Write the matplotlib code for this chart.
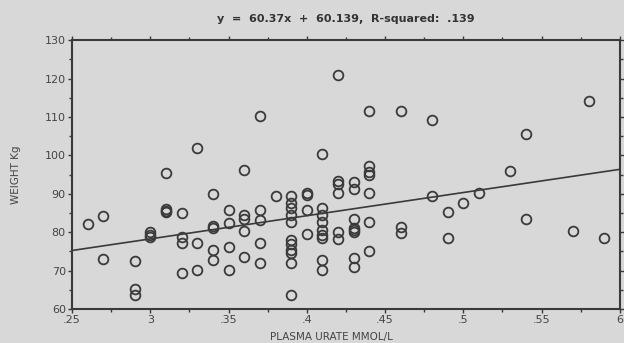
import numpy as np
import matplotlib
matplotlib.use("Agg")
import matplotlib.pyplot as plt
from matplotlib.ticker import MultipleLocator

# plasma urate (mmol/l) and weight (kg)
urate = [0.26,
         0.27, 0.27,
         0.29, 0.29, 0.29,
         0.30, 0.30, 0.30,
         0.31, 0.31, 0.31, 0.31,
         0.32, 0.32, 0.32, 0.32,
         0.33, 0.33, 0.33,
         0.34, 0.34, 0.34, 0.34, 0.34,
         0.35, 0.35, 0.35, 0.35,
         0.36, 0.36, 0.36, 0.36, 0.36,
         0.37, 0.37, 0.37, 0.37, 0.37,
         0.38,
         0.39, 0.39, 0.39, 0.39, 0.39, 0.39, 0.39, 0.39, 0.39, 0.39, 0.39,
         0.40, 0.40, 0.40, 0.40,
         0.41, 0.41, 0.41, 0.41, 0.41, 0.41, 0.41, 0.41, 0.41,
         0.42, 0.42, 0.42, 0.42, 0.42, 0.42,
         0.43, 0.43, 0.43, 0.43, 0.43, 0.43, 0.43, 0.43,
         0.44, 0.44, 0.44, 0.44, 0.44, 0.44, 0.44,
         0.46, 0.46, 0.46,
         0.48, 0.48,
         0.49, 0.49,
         0.50,
         0.51,
         0.53,
         0.54, 0.54,
         0.57,
         0.58,
         0.59]
weight = [82,
          84.3, 73,
          72.5, 65.3, 63.6,
          80.1, 79.2, 78.8,
          95.4, 86, 85.6, 85.2,
          85, 78.8, 77.1, 69.5,
          101.8, 77.1, 70.1,
          89.9, 81.5, 81, 75.3, 72.7,
          85.8, 82.5, 76.2, 70.1,
          96.3, 84.5, 83.5, 80.2, 73.5,
          110.3, 85.8, 83.1, 77.1, 71.9,
          89.4,
          89.4, 87.5, 86.4, 84.4, 82.6, 77.9, 77, 75.3, 74.5, 71.9, 63.6,
          90.2, 89.7, 85.9, 79.6,
          100.3, 86.2, 84.4, 82.6, 80.5, 79.2, 78.4, 72.7, 70.1,
          121, 93.4, 92.6, 90.1, 80, 78.3,
          93, 91.2, 83.4, 81.2, 80.6, 80.1, 73.3, 71,
          111.5, 97.1, 95.6, 95, 90.1, 82.6, 75.2,
          111.5, 81.3, 79.9,
          109.1, 89.4,
          85.3, 78.4,
          87.5,
          90.2,
          95.9,
          105.5, 83.3,
          80.2,
          114.1,
          78.4]

slope = 60.37
intercept = 60.139
r_squared = ".139"

x_ticks = [0.25, 0.30, 0.35, 0.40, 0.45, 0.50, 0.55, 0.60]
x_tick_labels = [".25", "3", ".35", ".4", ".45", ".5", ".55", "6"]
y_ticks = [60, 70, 80, 90, 100, 110, 120, 130]

bg = "#d8d8d8"
ink = "#3a3a3a"

fig = plt.figure(figsize=(6.24, 3.43), dpi=100, facecolor=bg)
ax = fig.add_axes([0.1154, 0.0991, 0.878, 0.784], facecolor=bg)

ax.plot(urate, weight, linestyle="none", marker="o", markersize=7,
        markerfacecolor="none", markeredgecolor=ink, markeredgewidth=1.3)

xl = np.array([0.25, 0.60])
ax.plot(xl, slope * xl + intercept, color=ink, linewidth=1.2)

ax.set_xlim(0.25, 0.60)
ax.set_ylim(60, 130)
ax.set_xticks(x_ticks)
ax.set_xticklabels(x_tick_labels)
ax.set_yticks(y_ticks)
ax.xaxis.set_minor_locator(MultipleLocator(0.025))
ax.yaxis.set_minor_locator(MultipleLocator(5))
ax.tick_params(which="both", direction="out", colors=ink, labelcolor="#444444",
               labelsize=8, top=True, right=True, width=1)
ax.tick_params(which="major", length=3, pad=1.5)
ax.tick_params(which="minor", length=2)

for s in ax.spines.values():
    s.set_color(ink)
    s.set_linewidth(1.5)

ax.set_title(f"y  =  {slope}x  +  {intercept},  R-squared:  {r_squared}",
             fontsize=8, fontweight="bold", color="#333333", pad=13)
ax.set_ylabel("WEIGHT Kg", fontsize=7.5, color="#444444", labelpad=17)
fig.text(331 / 624, 1 - 337 / 343, "PLASMA URATE MMOL/L", fontsize=7.5,
         color="#444444", ha="center", va="center")

fig.savefig("out.png", dpi=100, facecolor=bg)
plt.close(fig)
